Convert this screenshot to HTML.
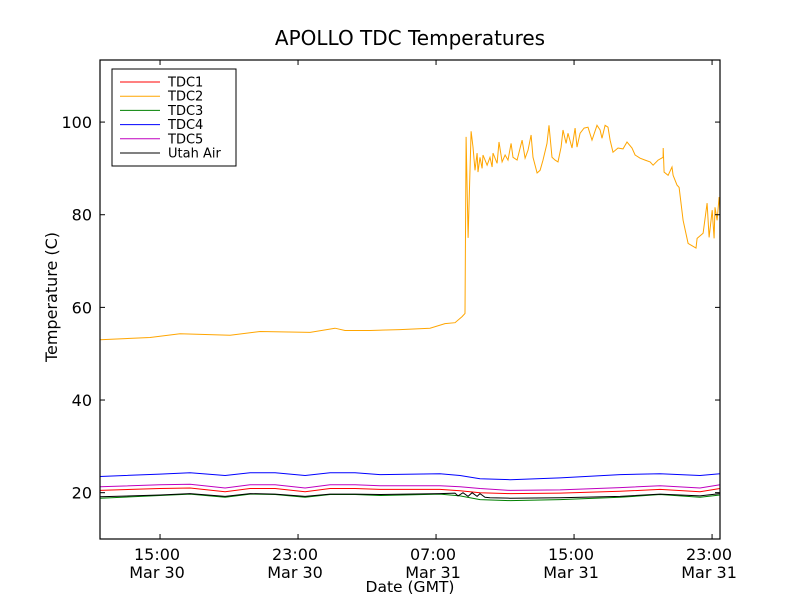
<!DOCTYPE html>
<html><head><meta charset="utf-8"><style>
html,body{margin:0;padding:0;background:#fff;}
svg text{font-family:"DejaVu Sans","Liberation Sans",sans-serif;}
</style></head><body>
<svg id="chart" width="800" height="600" viewBox="0 0 800 600" xmlns="http://www.w3.org/2000/svg">
<rect width="800" height="600" fill="#fff"/>
<text x="410" y="45" font-size="20" text-anchor="middle">APOLLO TDC Temperatures</text>
<g id="plot"></g>
<text x="410" y="592" font-size="15.5" text-anchor="middle">Date (GMT)</text>
<text transform="translate(57,297) rotate(-90)" font-size="16" text-anchor="middle">Temperature (C)</text>
</svg>
<script>
// hours since Mar 30 00:00 GMT
const xTickHours = [15, 23, 31, 39, 47];
const xTickTimes = ["15:00", "23:00", "07:00", "15:00", "23:00"];
const xTickDates = ["Mar 30", "Mar 30", "Mar 31", "Mar 31", "Mar 31"];
const yTicks = [20, 40, 60, 80, 100];
const seriesNames = ["TDC1", "TDC2", "TDC3", "TDC4", "TDC5", "Utah Air"];

const tdc2Times = [11.52,14.42,16.16,19.06,20.80,23.70,25.14,25.72,27.17,28.91,30.65,31.52,32.10,32.51,32.68,32.74,32.86,33.03,33.14,33.26,33.38,33.43,33.55,33.67,33.72,33.96,34.13,34.25,34.30,34.54,34.65,34.83,35.00,35.17,35.35,35.46,35.70,35.99,36.16,36.33,36.51,36.62,36.86,37.03,37.20,37.43,37.55,37.72,37.90,38.07,38.25,38.36,38.54,38.65,38.88,39.06,39.17,39.35,39.58,39.81,40.04,40.33,40.51,40.62,40.80,40.97,41.09,41.26,41.55,41.84,42.07,42.36,42.54,42.83,43.12,43.41,43.58,43.87,44.16,44.17,44.22,44.45,44.68,44.74,44.97,45.09,45.32,45.61,46.07,46.13,46.48,46.71,46.83,47.01,47.12,47.17,47.29,47.41,47.46];
const tdc2Values = [53,53.5,54.3,54,54.8,54.6,55.5,55,55,55.2,55.5,56.5,56.7,58,58.7,96.8,75,98,94.6,89.6,93.3,89.2,92.4,90,92.9,90.7,92.4,90.3,93.3,91.1,95.7,91.4,92.9,91.8,95.4,92.4,91.8,96.1,92.2,93.9,97.2,92.4,89,89.6,91.8,95.4,99.3,92.4,91.8,91.4,94.6,98.3,95.4,97.6,94.4,98.7,94.6,97.6,98.7,98.9,96.1,99.3,98.3,96.5,99.3,98.9,96.1,93.5,94.4,94.2,95.7,94.4,92.9,92.2,91.8,91.4,90.7,91.8,92.4,94.4,89.2,88.5,90.3,88.5,86.4,85.9,78.8,73.8,72.8,74.9,76,82.5,75.1,81,74.9,81.6,78.8,83.8,81];

const smoothTimes = [11.52,15,16.74,18.77,20.22,21.67,23.41,24.86,26.30,27.75,31.23,32.39,33.55,35.29,38.19,41.67,43.99,46.30,47.46];
const tdc4Values = [23.5,24,24.3,23.7,24.3,24.3,23.7,24.3,24.3,23.9,24.1,23.7,23.0,22.8,23.2,23.9,24.1,23.7,24.1];
const tdc5Values = [21.3,21.7,21.8,21.0,21.7,21.7,21.0,21.7,21.7,21.5,21.5,21.3,20.9,20.5,20.6,21.1,21.5,21.0,21.7];
const tdc1Values = [20.5,20.9,21.0,20.2,20.9,20.9,20.2,20.9,20.9,20.7,20.7,20.4,20.0,19.8,19.9,20.3,20.7,20.2,20.9];
const tdc3Values = [18.8,19.4,19.7,19.0,19.7,19.6,19.0,19.6,19.6,19.4,19.7,19.3,18.5,18.3,18.5,19.0,19.6,19.0,19.5];

const airTimes = [11.52,15,16.74,18.77,20.22,21.67,23.41,24.86,26.30,27.75,31.23,32.10,32.27,32.56,32.86,33.09,33.38,33.55,33.84,34.13,35.29,38.19,41.67,43.99,46.30,47.46];
const airValues = [19.1,19.5,19.8,19.2,19.8,19.7,19.2,19.7,19.7,19.6,19.8,19.9,19.3,20.0,19.2,20.0,19.2,19.8,19.0,18.9,18.8,18.9,19.2,19.7,19.3,19.8];

const L=100,R=720,T=60,B=539;
const xMin=11.52,xMax=47.46,yMin=10,yMax=113.4;
const xs=h=>L+(h-xMin)/(xMax-xMin)*(R-L);
const ys=v=>B-(v-yMin)/(yMax-yMin)*(B-T);
const NS="http://www.w3.org/2000/svg";
const plot=document.getElementById('plot');
function mk(tag,attrs,parent){const e=document.createElementNS(NS,tag);for(const k in attrs)e.setAttribute(k,attrs[k]);(parent||plot).appendChild(e);return e;}

const series=[
 {name:"tdc1",t:smoothTimes,v:tdc1Values,c:"#ff0000"},
 {name:"tdc2",t:tdc2Times,v:tdc2Values,c:"#ffa500"},
 {name:"tdc3",t:smoothTimes,v:tdc3Values,c:"#008000"},
 {name:"tdc4",t:smoothTimes,v:tdc4Values,c:"#0000ff"},
 {name:"tdc5",t:smoothTimes,v:tdc5Values,c:"#bf00bf"},
 {name:"utah-air",t:airTimes,v:airValues,c:"#000000"}
];
for(const s of series){
 const d=s.t.map((h,i)=>(i?'L':'M')+xs(h).toFixed(1)+','+ys(s.v[i]).toFixed(1)).join('');
 const p=mk('path',{d:d,fill:'none',stroke:s.c,'stroke-width':1});
 
 
}
const frame=mk('rect',{x:L,y:T,width:R-L,height:B-T,fill:'none',stroke:'#000','stroke-width':1.2});



xTickHours.forEach((h,i)=>{
 const x=xs(h);
 mk('line',{x1:x,x2:x,y1:B,y2:B-5,stroke:'#000'});
 mk('line',{x1:x,x2:x,y1:T,y2:T+5,stroke:'#000'});
 const t1=mk('text',{x:x-3,y:B+21,'font-size':16,'text-anchor':'middle'});t1.textContent=xTickTimes[i];
 
 
 const t2=mk('text',{x:x-3,y:B+39,'font-size':16,'text-anchor':'middle'});t2.textContent=xTickDates[i];
 
 
});
yTicks.forEach(v=>{
 const y=ys(v);
 mk('line',{x1:L,x2:L+5,y1:y,y2:y,stroke:'#000'});
 mk('line',{x1:R,x2:R-5,y1:y,y2:y,stroke:'#000'});
 const t=mk('text',{x:L-8,y:y+6,'font-size':16,'text-anchor':'end'});t.textContent=v;
 
 
});

const lg=mk('g',{});


mk('rect',{x:112,y:69,width:124,height:97,fill:'#fff',stroke:'#000'},lg);
series.forEach((s,i)=>{
 const y=82+i*14.2;
 const ln=mk('line',{x1:120,x2:160,y1:y,y2:y,stroke:s.c},lg);
 
 
 const t=mk('text',{x:168,y:y+4.5,'font-size':13},lg);t.textContent=seriesNames[i];
 
 
});
</script>
</body></html>
